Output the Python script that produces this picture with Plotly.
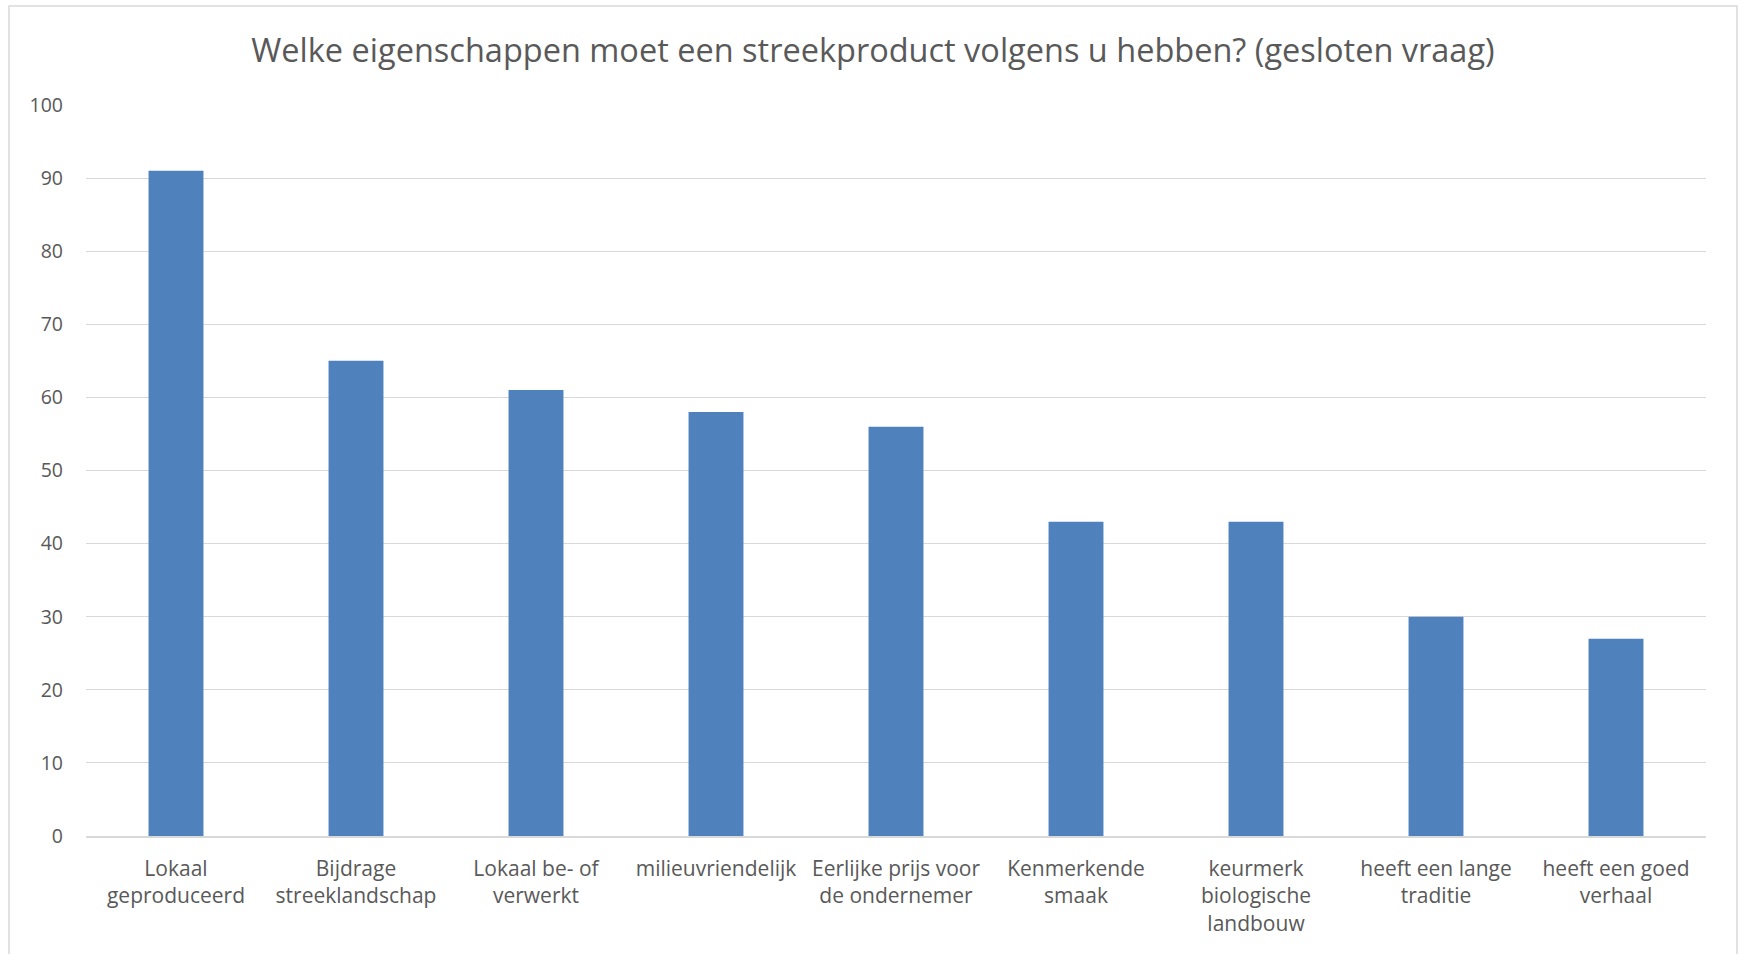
import plotly.graph_objects as go

categories = [
    "Lokaal<br>geproduceerd",
    "Bijdrage<br>streeklandschap",
    "Lokaal be- of<br>verwerkt",
    "milieuvriendelijk",
    "Eerlijke prijs voor<br>de ondernemer",
    "Kenmerkende<br>smaak",
    "keurmerk<br>biologische<br>landbouw",
    "heeft een lange<br>traditie",
    "heeft een goed<br>verhaal",
]
values = [91, 65, 61, 58, 56, 43, 43, 30, 27]
y_ticks = list(range(0, 101, 10))

title_text = "Welke eigenschappen moet een streekproduct volgens u hebben? (gesloten vraag)"

W, H = 1739, 954
L, R, T, B = 86, 1739 - 1706, 105, 954 - 836
pw = W - L - R
ph = H - T - B

fig = go.Figure(
    go.Bar(x=categories, y=values, marker=dict(color="#4f81bd", line=dict(width=0)))
)

fig.update_layout(
    width=W,
    height=H,
    margin=dict(l=L, r=R, t=T, b=B),
    paper_bgcolor="white",
    plot_bgcolor="white",
    bargap=0.695,
    showlegend=False,
    font=dict(family="Open Sans, sans-serif", color="#595959"),
    title=dict(
        text=title_text,
        x=873 / W,
        xanchor="center",
        y=1 - 51 / H,
        yanchor="middle",
        font=dict(size=32.5, color="#595959", family="Open Sans, sans-serif"),
    ),
    shapes=[
        dict(
            type="rect",
            xref="paper",
            yref="paper",
            x0=(9 - L) / pw,
            x1=(1737 - L) / pw,
            y0=(836 - 970) / ph,
            y1=(836 - 6) / ph,
            line=dict(color="#d9d9d9", width=1.5),
            fillcolor="rgba(0,0,0,0)",
            layer="below",
        )
    ],
)

fig.update_yaxes(
    range=[0, 100],
    tickvals=y_ticks,
    showgrid=True,
    gridcolor="#d9d9d9",
    gridwidth=1,
    zeroline=False,
    showline=False,
    ticks="",
    ticklabelstandoff=22,
    tickfont=dict(size=19.5, color="#595959"),
)
fig.update_xaxes(
    showgrid=False,
    showline=True,
    linecolor="#d9d9d9",
    linewidth=1.5,
    ticks="",
    ticklabelstandoff=13,
    tickangle=0,
    tickfont=dict(size=21, color="#595959"),
)

fig.write_html(
    "out.html",
    config={"displayModeBar": False},
    post_script="document.body.style.margin='0';document.body.style.overflow='hidden';",
)
